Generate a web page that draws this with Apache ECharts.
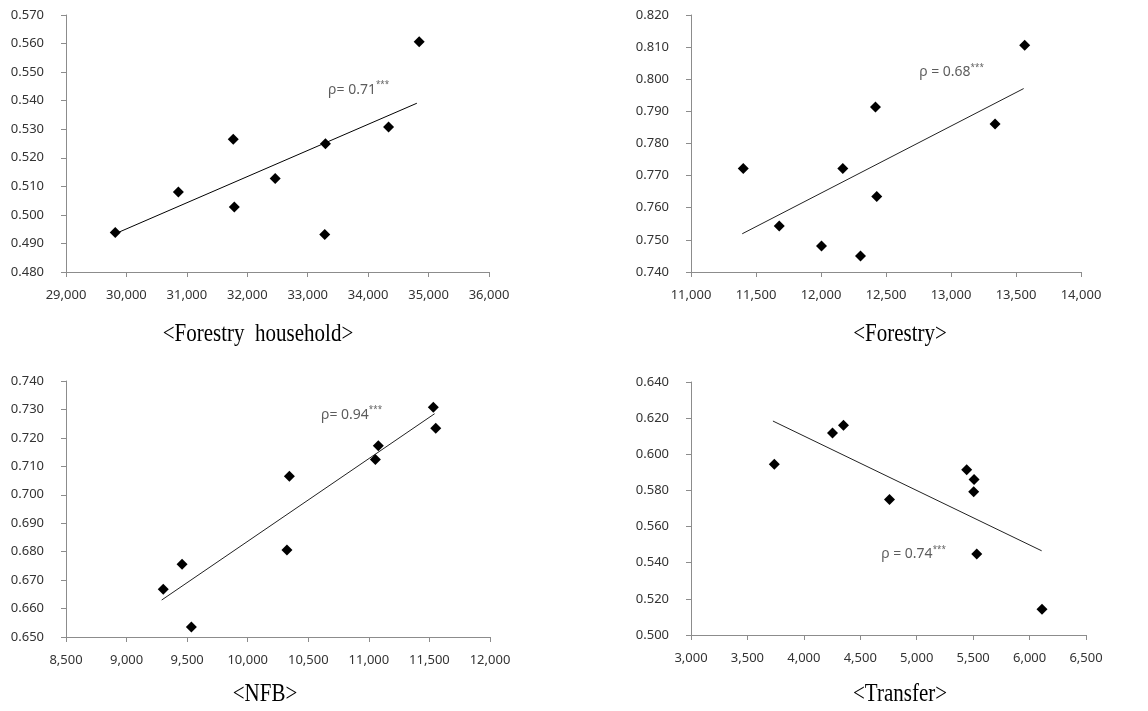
<!DOCTYPE html>
<html><head><meta charset="utf-8">
<script src="https://cdn.jsdelivr.net/npm/echarts@6/dist/echarts.min.js"></script>
<style>html,body{margin:0;padding:0;background:#fff}#c{width:1148px;height:711px}</style>
</head><body><div id="c"></div>
<script>
// ---- Panel 1: <Forestry household> ----
const fhX = [29815, 30860, 31768, 31785, 32462, 33293, 33282, 34338, 34845];
const fhY = [0.4938, 0.5080, 0.5265, 0.5028, 0.5127, 0.5249, 0.4931, 0.5308, 0.5606];
const fhTrendX = [29815, 34806];
const fhTrendY = [0.4934, 0.5391];
const fhRhoText = 'ρ= 0.71';
const fhRhoAt = [33337, 0.5439];
const fhXTicks = [29000, 36000, 1000];
const fhYTicks = [0.48, 0.57, 0.01];

// ---- Panel 2: <Forestry> ----
const foX = [11402, 11679, 12004, 12168, 12304, 12419, 12429, 13339, 13567];
const foY = [0.7722, 0.7543, 0.7481, 0.7722, 0.7450, 0.7914, 0.7635, 0.7861, 0.8106];
const foTrendX = [11394, 13559];
const foTrendY = [0.7519, 0.7971];
const foRhoText = 'ρ = 0.68';
const foRhoAt = [12755, 0.8023];
const foXTicks = [11000, 14000, 500];
const foYTicks = [0.74, 0.82, 0.01];

// ---- Panel 3: <NFB> ----
const nfX = [9303, 9458, 9535, 10324, 10344, 11054, 11078, 11532, 11552];
const nfY = [0.6668, 0.6756, 0.6535, 0.6806, 0.7065, 0.7124, 0.7172, 0.7308, 0.7234];
const nfTrendX = [9290, 11543];
const nfTrendY = [0.6630, 0.7285];
const nfRhoText = 'ρ= 0.94';
const nfRhoAt = [10605, 0.7282];
const nfXTicks = [8500, 12000, 500];
const nfYTicks = [0.65, 0.74, 0.01];

// ---- Panel 4: <Transfer> ----
const trX = [3738, 4254, 4351, 4759, 5443, 5508, 5505, 5532, 6110];
const trY = [0.5945, 0.6118, 0.6160, 0.5750, 0.5915, 0.5860, 0.5792, 0.5448, 0.5142];
const trTrendX = [3726, 6107];
const trTrendY = [0.6184, 0.5466];
const trRhoText = 'ρ = 0.74';
const trRhoAt = [4685, 0.5446];
const trXTicks = [3000, 6500, 500];
const trYTicks = [0.50, 0.64, 0.02];

const captions = ['<Forestry  household>', '<Forestry>', '<NFB>', '<Transfer>'];

const panels = [
  {x: fhX, y: fhY, tx: fhTrendX, ty: fhTrendY, rho: fhRhoText, at: fhRhoAt, xt: fhXTicks, yt: fhYTicks,
   grid: {left: 66, top: 15, width: 423, height: 257}, line: '#000'},
  {x: foX, y: foY, tx: foTrendX, ty: foTrendY, rho: foRhoText, at: foRhoAt, xt: foXTicks, yt: foYTicks,
   grid: {left: 691, top: 15, width: 390, height: 257}, line: '#222'},
  {x: nfX, y: nfY, tx: nfTrendX, ty: nfTrendY, rho: nfRhoText, at: nfRhoAt, xt: nfXTicks, yt: nfYTicks,
   grid: {left: 66, top: 381, width: 424, height: 256}, line: '#222'},
  {x: trX, y: trY, tx: trTrendX, ty: trTrendY, rho: trRhoText, at: trRhoAt, xt: trXTicks, yt: trYTicks,
   grid: {left: 691, top: 382, width: 395, height: 253}, line: '#222'}
];

const axisColor = '#8c8c8c';
const labelColor = '#333333';
const labelFont = '"Noto Sans", sans-serif';

const grids = [], xAxes = [], yAxes = [], series = [];
panels.forEach((p, i) => {
  grids.push(Object.assign({containLabel: false}, p.grid));
  xAxes.push({
    type: 'value', gridIndex: i, min: p.xt[0], max: p.xt[1], interval: p.xt[2],
    axisLine: {show: true, onZero: false, lineStyle: {color: axisColor, width: 1}},
    axisTick: {show: true, inside: false, length: 5, lineStyle: {color: axisColor}},
    splitLine: {show: false},
    axisLabel: {margin: 17, color: labelColor, fontSize: 13, fontFamily: labelFont,
      formatter: v => Math.round(v).toLocaleString('en-US')}
  });
  yAxes.push({
    type: 'value', gridIndex: i, min: p.yt[0], max: p.yt[1], interval: p.yt[2],
    axisLine: {show: true, onZero: false, lineStyle: {color: axisColor, width: 1}},
    axisTick: {show: true, inside: false, length: 5, lineStyle: {color: axisColor}},
    splitLine: {show: false},
    axisLabel: {margin: 22, color: labelColor, fontSize: 13, fontFamily: labelFont,
      formatter: v => v.toFixed(3)}
  });
  series.push({
    type: 'line', xAxisIndex: i, yAxisIndex: i, symbol: 'none', silent: true,
    data: p.tx.map((v, k) => [v, p.ty[k]]),
    lineStyle: {color: p.line, width: 1}, z: 2
  });
  series.push({
    type: 'scatter', xAxisIndex: i, yAxisIndex: i, symbol: 'diamond', symbolSize: 11,
    data: p.x.map((v, k) => [v, p.y[k]]),
    itemStyle: {color: '#000', opacity: 1}, z: 3
  });
  series.push({
    type: 'scatter', xAxisIndex: i, yAxisIndex: i, symbolSize: 0, silent: true,
    data: [p.at],
    label: {show: true, position: 'right', distance: 0,
      formatter: '{a|' + p.rho + '}{s|***}',
      rich: {
        a: {fontSize: 14, fontFamily: labelFont, color: labelColor},
        s: {fontSize: 8, fontFamily: labelFont, color: labelColor, padding: [0, 0, 9, 0]}
      }},
    z: 4
  });
});

const capPos = [[258, 335], [900, 335], [265, 695], [900, 695]];
const graphic = captions.map((t, i) => ({
  type: 'text', x: capPos[i][0], y: capPos[i][1], scaleY: 1.15,
  style: {text: t, font: '21px "Liberation Serif", serif', fill: '#000', textAlign: 'center', textVerticalAlign: 'middle'}
}));

const chart = echarts.init(document.getElementById('c'), null, {renderer: 'canvas'});
chart.setOption({
  animation: false,
  backgroundColor: '#fff',
  grid: grids, xAxis: xAxes, yAxis: yAxes, series: series, graphic: graphic
});
</script>
</body></html>
